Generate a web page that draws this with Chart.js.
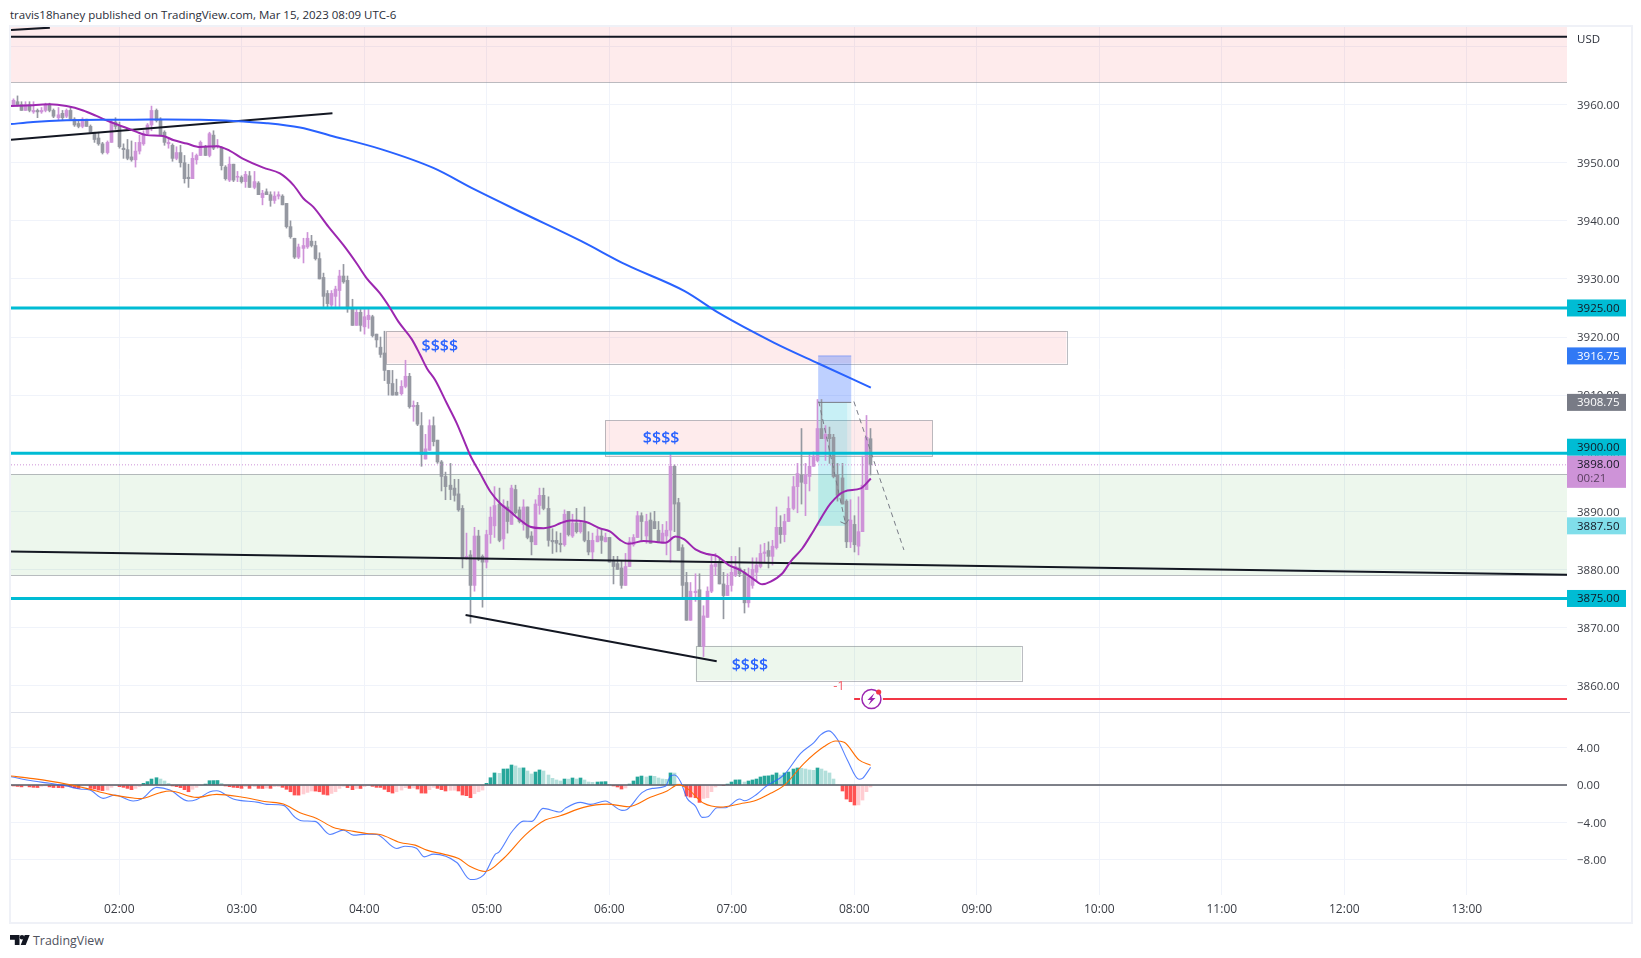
<!DOCTYPE html>
<html>
<head>
<meta charset="utf-8">
<title>ES 2m</title>
<script src="https://cdn.jsdelivr.net/npm/chart.js@4/dist/chart.umd.min.js"></script>
<style>
html,body{margin:0;padding:0;background:#fff;width:1641px;height:958px;overflow:hidden;font-family:"Open Sans",sans-serif}
.frame{position:absolute;left:9px;top:25px;width:1620px;height:895px;border:2px solid #eff1f7}
.sep{position:absolute;left:11px;top:712px;width:1619px;height:1px;background:#e0e3eb}
canvas{position:absolute}
#title{position:absolute;left:10px;top:6px;font-size:11.5px;line-height:18px;color:#2a2e39;white-space:nowrap}
#logo{position:absolute;left:10px;top:935px}
#brand{position:absolute;left:33px;top:932px;font-size:12.4px;line-height:18px;color:#50535e}
</style>
</head>
<body>
<div class="frame"></div>
<canvas id="price" width="1622" height="685" style="left:10px;top:27px"></canvas>
<canvas id="macd" width="1622" height="210" style="left:10px;top:712px"></canvas>
<div class="sep"></div>
<div id="title">travis18haney published on TradingView.com, Mar 15, 2023 08:09 UTC-6</div>
<svg id="logo" width="20" height="11" viewBox="0 0 20 11"><path d="M0 0h9.500v10h-4.700v-5.200h-4.800z M14.700 0h5l-4 10h-5z" fill="#131722"/><circle cx="12" cy="2.300" r="2.300" fill="#131722"/></svg>
<div id="brand">TradingView</div>
<script>
// 2 minute bars, time axis is minutes after midnight
var firstBar = 68;
var barMinutes = 2;
var viewStart = 66.96;
var viewEnd = 829.07;

var barOpen = [
3960,3960.5,3960,3959,3960,3958.75,3959,3958.75,3959,3960,
3959,3957.75,3958.5,3958,3959,3957.5,3956.75,3956.25,3957.5,3956.25,
3955.25,3954.25,3953.25,3951.75,3953.5,3957,3956.25,3952.5,3952.25,3951,
3950.5,3952,3953.25,3955,3956.5,3959,3957.5,3955.25,3953.25,3953,
3950.75,3951.75,3950,3947.5,3947.25,3950.5,3951.25,3952.75,3951.25,3954.75,
3952.75,3952.5,3949.25,3947,3949.75,3947.5,3947.5,3946.75,3947.75,3945.75,
3946.5,3944,3945,3944.5,3943.5,3944.25,3944.25,3943,3939,3937,
3933.75,3935.25,3935.5,3936.5,3935.75,3933.5,3930.25,3927.5,3925.5,3927,
3928,3930.5,3929.75,3925,3922,3924.25,3921.75,3923,3923.5,3920.5,
3918.25,3917.25,3914.25,3912,3910.5,3910.25,3911.5,3913.25,3908,3908.25,
3904.75,3899,3900.5,3904.75,3902.25,3898.5,3896,3894.5,3894,3893,
3890.5,3882,3882.5,3877.25,3885.75,3882.25,3881.25,3886,3887.5,3891.25,
3885.25,3890.75,3887.75,3893.75,3890.25,3887.75,3890.75,3885.75,3884.25,3891,
3892.75,3890.5,3885,3885,3884.5,3884.25,3890,3885.75,3888,3886.5,
3888,3885,3883,3884.75,3885.75,3884.75,3885.5,3881.5,3881,3880.25,
3877.25,3880.5,3884.25,3885.5,3889.25,3885.75,3888.5,3888.25,3886.75,3884.5,
3885.75,3886.75,3897.75,3891.5,3883.75,3877.75,3871.25,3876,3876.5,3866.75,
3871.75,3876.25,3880.5,3881.25,3877.5,3875.5,3877.25,3879,3880.25,3879.5,
3874.25,3877.25,3879.5,3880.5,3882.75,3883.25,3882.25,3883.75,3887.25,3886,
3888.25,3890.5,3894.25,3896.25,3894.75,3896,3897.75,3898.75,3904.25,3902.5,
3903.25,3902.75,3896.25,3895.75,3891.75,3884.75,3887.75,3884,3886.5,3893.75,
3902.5];
var barHigh = [
3961,3961.5,3960.5,3960.5,3960.5,3960.5,3959.25,3959.5,3960.25,3960.25,
3959.25,3959.5,3959,3959.25,3959.5,3957.75,3957.25,3957.75,3957.5,3956.5,
3955.25,3955.25,3953.5,3953.75,3957.25,3957.75,3957,3953.25,3954,3953.75,
3953.5,3954.75,3955.5,3956.75,3959.75,3959.25,3957.75,3955.5,3954.25,3953.25,
3952.75,3953,3951.25,3949.75,3951.75,3951.5,3953.75,3953,3955.25,3955.5,
3954,3952.75,3949.5,3951,3949.75,3948.5,3947.75,3948.5,3948.5,3948.5,
3946.75,3945.25,3945.5,3945,3945,3945,3944.5,3943,3940,3937,
3936,3937,3938,3937.5,3936.5,3934.5,3931,3928,3928,3928.75,
3931.5,3932.5,3930.5,3926.5,3924.75,3924.75,3924.75,3924.75,3923.75,3920.5,
3920,3921,3914.25,3914.25,3912.75,3912.5,3916,3913.75,3909,3908.75,
3907,3903.25,3905.75,3906.25,3902.25,3898.75,3896.75,3898.25,3895.5,3895.5,
3891,3886.25,3883.25,3887.25,3886.75,3882.5,3886.75,3890.75,3894.25,3894,
3892,3891.75,3894.5,3894.5,3890.75,3892,3890.75,3886.5,3892,3894,
3894,3892.5,3887,3886.5,3886.25,3890.25,3890,3889.5,3890.5,3888.25,
3890.75,3886.5,3886.25,3887,3886.75,3886.25,3885.5,3882.25,3882.25,3881.5,
3882.75,3885.5,3886,3890,3889.75,3889.5,3889.75,3890,3888.25,3887.75,
3888.25,3900,3898,3892.25,3884.25,3879.5,3877.75,3879.25,3879.25,3873.75,
3877,3882.25,3882.75,3882,3879.5,3879.25,3882.25,3882.25,3883.75,3880,
3880.25,3882,3882,3884.25,3884.5,3884.75,3885,3890.75,3889.25,3889.5,
3892.5,3896,3898.25,3904.25,3898.25,3899.75,3900.25,3909.25,3909.25,3904.75,
3904.5,3903.25,3898.25,3898.25,3892,3892,3889.25,3892.5,3899.5,3906.5,
3904.25];
var barLow = [
3959.75,3959.75,3959,3959,3958.75,3958.5,3957.75,3958.5,3958.75,3958.75,
3957.75,3957.25,3957.25,3957.75,3957.25,3956.25,3956,3956,3956.25,3955.25,
3953.5,3953,3951.5,3951.5,3953.5,3955.75,3952.5,3950.75,3950.5,3950.25,
3949.25,3951.5,3953,3954.75,3955.5,3957,3954.75,3953,3952.5,3950.25,
3950.5,3949.25,3946.5,3945.75,3947.25,3949.75,3951.25,3951.25,3951,3952.25,
3952.5,3948.75,3947,3946.75,3946.75,3946.75,3946.5,3945.75,3945.75,3945.5,
3944.5,3942.75,3944.5,3942.5,3943,3943.75,3942.75,3938.75,3937,3933.5,
3933.5,3932.75,3935.25,3935.5,3933.25,3930,3925.25,3925,3925.25,3925.25,
3925.25,3929.25,3924.25,3922,3922,3921,3920.5,3921.5,3920,3918.25,
3916.5,3912.5,3910,3910,3910,3910,3911.25,3907.75,3905.5,3904.75,
3897.75,3899,3900.5,3901.25,3898.25,3893.5,3892,3892,3891.75,3890,
3880.25,3881.75,3870.75,3876.25,3881.5,3873.5,3880.25,3884.5,3885.5,3884.75,
3883.5,3886.25,3887.75,3889.5,3888,3886.75,3885.25,3882.5,3884.25,3889.5,
3890.25,3884,3882.75,3883,3883,3884,3885.75,3885.5,3886.25,3886.25,
3884.75,3882.5,3881.75,3884.75,3882.75,3884.75,3881.25,3877.5,3880,3876.75,
3877.25,3880.5,3884,3885.5,3885,3884.5,3884.5,3887,3884.75,3884.5,
3882.5,3881.25,3886.5,3883.25,3875.25,3871.25,3871.25,3874.5,3866.75,3865,
3871.75,3876,3879,3877.5,3871.5,3875.5,3876.25,3878.75,3878.75,3872.5,
3873.5,3876.75,3878,3880.25,3881.25,3880.25,3880.75,3883.5,3884.5,3884.75,
3888.25,3890.25,3889.75,3891.25,3889.25,3893.5,3897.75,3898.5,3902.5,3898.75,
3898.25,3895.75,3891.75,3891.25,3883.75,3883.75,3883,3882.5,3886.5,3893.75,
3896.25];
var barClose = [
3960.75,3960,3959,3960,3959,3959,3958.75,3959,3960,3959,
3958,3958.25,3957.75,3959,3957.5,3956.5,3956.25,3957.5,3956.25,3955.25,
3954,3953.25,3951.75,3953.5,3957,3956.25,3952.75,3952.25,3950.75,3950.5,
3952,3953.5,3955,3956.5,3959,3957.25,3954.75,3953.5,3953.5,3950.75,
3951.75,3950,3947.25,3947.25,3950.75,3951.25,3953.5,3951.25,3955,3952.5,
3953,3949.5,3947.25,3949.75,3947,3947.5,3946.75,3948,3945.75,3946.75,
3944.5,3944.75,3944.5,3943.5,3944.25,3944.5,3942.75,3939,3937.25,3933.75,
3935.5,3935.75,3937,3935.75,3933.5,3930,3927,3925.75,3927.5,3928.25,
3930.5,3929.5,3925,3922,3924.25,3922,3923.5,3923.75,3920.25,3919.5,
3917,3914.25,3912,3910,3910,3911.5,3913.25,3908,3908.25,3905,
3899.75,3900.75,3904.75,3902,3898.5,3896,3894.25,3893.75,3892.75,3890.25,
3882,3882.25,3877.25,3885.75,3881.75,3881.25,3886,3889,3891,3885,
3891,3888.25,3894,3889.75,3888.25,3890.75,3885.5,3884.75,3891.25,3892.75,
3890.5,3885,3884.75,3884.5,3884.25,3889.5,3886,3888,3886.5,3888,
3885,3883,3885,3885.75,3885,3885.5,3881.25,3880.5,3880,3877.25,
3880.5,3884.75,3885.5,3889.25,3888.25,3888.25,3884.5,3887,3884.75,3886.25,
3886.75,3897.75,3891.25,3883.25,3877.25,3871.25,3876.25,3876.25,3866.75,3872,
3876.25,3880.75,3881,3877.5,3875.5,3877.25,3879.5,3880.5,3879.25,3874.25,
3878.75,3880,3880.75,3882.75,3883,3882.25,3884,3887.25,3886,3888.25,
3890.5,3894.25,3896.5,3895,3896.25,3897.75,3899.5,3904.25,3902.5,3903.25,
3902.5,3896,3892.75,3891.25,3884.75,3888.5,3884.25,3886.5,3894.5,3902.75,
3898];

// purple moving average
var emaTimes = [66.96,77.8,86,94.1,102.3,108.8,115.4,121.9,128.5,133.4,141.5,146.4,153,159.5,167.7,174.2,180.7,190.5,198.7,205.3,210.2,215,222.4,229.8,236.3,241.2,247.7,252.6,256.7,263.3,267.4,270.7,274.7,280.4,285.3,289.4,291.8,296.8,301.7,306.6,311.5,316.4,321.3,327.8,332.7,336,340.9,348.2,355.6,360.5,365.4,369.5,376.9,387.5,392.4,396.5,402.2,407.9,412.8,418.5,424.2,430.8,434.9,439,444.7,448.8,454.5,460.3,468.4,475,483.2,488.1];
var emaValues = [3959.75,3959.9,3960.05,3959.75,3959,3958.05,3957.05,3956.2,3955.3,3954.75,3954.6,3953.9,3953.3,3952.7,3952.85,3952.05,3950.65,3949.15,3948.15,3946.15,3943.85,3942.4,3939,3935.8,3932.65,3930.1,3927.5,3925,3922.65,3919.6,3916.9,3914.6,3912.6,3908.6,3905.15,3901.7,3899.7,3896.5,3893.4,3891.35,3889.95,3888.5,3887.35,3887.1,3887.45,3887.95,3888.4,3888.2,3887.05,3886.5,3885.05,3884.4,3884.9,3884.6,3885.65,3885.2,3883.45,3882.65,3882.3,3880.75,3879.9,3878.3,3877.45,3877.9,3879.3,3881.35,3883.6,3886.8,3891.35,3893.4,3893.95,3895.65];

// blue moving average
var smaTimes = [66.96,77.8,94.1,110.5,126.8,143.2,159.5,175.8,192.2,208.5,223.2,248.5,273.8,294,317.6,346.3,368.2,396.9,413.8,440.8,462.7,488.1];
var smaValues = [3956.65,3957,3957.3,3957.4,3957.4,3957.45,3957.4,3957.2,3956.8,3956.05,3954.7,3952.3,3949.1,3945.4,3941.35,3936.5,3932.45,3927.9,3924.1,3919,3915.4,3911.3];

var macdHist = [
-0.1,-0.15,-0.2,-0.1,-0.2,-0.25,-0.27,-0.15,-0.1,-0.2,
-0.27,-0.28,-0.3,-0.15,-0.18,-0.3,-0.36,-0.1,-0.08,-0.36,
-0.42,-0.54,-0.6,-0.54,-0.25,-0.03,-0.18,-0.25,-0.36,-0.5,
-0.36,-0.18,0.18,0.36,0.64,0.78,0.64,0.43,0.18,-0.1,
-0.18,-0.28,-0.5,-0.72,-0.46,-0.25,-0.07,0.1,0.46,0.47,
0.48,0.18,-0.1,-0.18,-0.25,-0.28,-0.36,-0.18,-0.36,-0.18,
-0.36,-0.37,-0.33,-0.36,-0.18,-0.17,-0.25,-0.46,-0.72,-1.07,
-1.08,-0.96,-0.79,-0.64,-0.65,-0.72,-1,-1.07,-0.9,-0.72,
-0.36,-0.14,-0.28,-0.5,-0.36,-0.37,-0.18,-0.03,-0.14,-0.25,
-0.26,-0.46,-0.72,-0.86,-0.72,-0.54,-0.28,-0.36,-0.32,-0.43,
-0.86,-0.87,-0.5,-0.25,-0.36,-0.5,-0.64,-0.57,-0.56,-0.64,
-1.07,-1.14,-1.36,-0.93,-0.72,-0.54,0.18,0.78,1.29,1.25,
1.71,1.72,2.14,2.04,1.82,1.83,1.5,1.18,1.39,1.61,
1.5,1.07,0.71,0.54,0.43,0.64,0.63,0.75,0.64,0.75,
0.54,0.32,0.29,0.32,0.34,0.36,0.07,-0.1,-0.21,-0.43,
-0.32,0.1,0.43,0.86,0.96,0.86,0.96,0.93,0.75,0.64,
0.61,1.29,1.28,0.1,-0.03,-1.18,-1.29,-1.36,-1.86,-1.43,
-1.36,-0.71,-0.21,-0.03,-0.07,0.1,0.32,0.54,0.55,0.32,
0.43,0.54,0.64,0.86,0.96,0.98,1.07,1.29,1.07,1.29,
1.39,1.71,1.82,1.79,1.71,1.61,1.57,1.82,1.71,1.5,
1.29,0.64,0,-0.64,-1.5,-1.79,-2.14,-2.13,-1.61,-0.71,
-0.21];

var macdTimes = [66.96,77.8,86,94.1,100.7,105.6,112.1,117.8,126.8,130.9,138.3,144.8,153.8,157.9,164.4,167.7,175.8,188.1,192.2,200.4,206.1,209.3,215.9,223.2,229.8,234.7,241.2,246.1,255.9,260,265.7,269.3,273.9,285.3,291.9,298.4,304.2,305.8,312.3,318,322.1,327.5,336,338.4,345.8,350.7,358,366.2,368.7,376,381,387.5,390,392,394.9,398.1,402.2,405.5,408.3,412.8,416.9,423.9,426.2,432.4,436.5,445.5,453.7,460.2,463.5,467.6,471.7,476.6,482.3,484,488];
var macdValues = [0.89,0.43,0.18,-0.11,-0.43,-0.54,-1.43,-1.07,-1.71,-1.5,-0.25,-0.54,-1.71,-1.54,-0.71,-0.61,-1.5,-1.86,-2.07,-2.18,-3.46,-3.82,-3.89,-5.29,-4.82,-5.36,-5.25,-5.29,-6.79,-6.54,-6.79,-7.68,-7.39,-8.29,-10.1,-9.64,-7.39,-7.21,-5,-3.86,-3.89,-2.5,-2.89,-2.5,-1.86,-2.07,-1.71,-2.71,-2.61,-0.82,-0.36,-0.14,0.96,1.07,0.36,-1.43,-2.25,-3.46,-3.39,-2.43,-2.43,-1.5,-1.68,-0.96,-0.18,1.07,3.39,4.54,5.36,5.79,4.89,2.68,0.61,0.71,1.89];
var signalTimes = [66.96,77.8,94.1,103.9,115.4,126.8,130,139.9,144.8,157.9,167.7,179.1,192.2,200.4,208.5,216.7,224.9,233.1,241.2,247.7,257.5,264.9,270.6,278.8,286.2,291.9,299.2,308.2,318.8,328.6,336,347.4,358.9,369.5,380.1,388.3,394,398.1,406.3,414.5,424.3,430.9,439,445.5,455.4,465.2,470.9,475,482.3,488];
var signalValues = [0.96,0.68,0.11,-0.36,-1,-1.39,-1.46,-0.82,-0.64,-1.32,-1,-1.25,-1.79,-2.04,-2.96,-3.57,-4.54,-4.89,-5.18,-5.29,-6.14,-6.43,-6.96,-7.39,-7.86,-8.72,-9.25,-7.86,-5.36,-3.75,-3.29,-2.39,-2.04,-2.32,-1.32,-0.64,0.04,-0.36,-1.96,-2.36,-2,-1.71,-0.89,-0.07,2.32,4.11,4.71,4.57,2.68,2.11];

var priceTicks = [3970,3960,3950,3940,3930,3920,3910,3900,3890,3880,3870,3860];
var macdTicks = [4,0,-4,-8];
var timeTicks = [120,180,240,300,360,420,480,540,600,660,720,780];
var levels = [3925,3900,3875];
var lastPrice = 3898;

// zones: start time, end time, top price, bottom price
var pinkStart = [60,250.4,358];
var pinkEnd = [840,583.9,518.3];
var pinkTop = [3980,3921.05,3905.65];
var pinkBottom = [3963.85,3915.45,3899.5];
var greenStart = [60,402.3];
var greenEnd = [840,561.8];
var greenTop = [3896.4,3866.85];
var greenBottom = [3879,3860.9];

var tradeStart = 462.3;
var tradeMid = 476.5;
var tradeEnd = 478.5;
var stopPrice = 3916.75;
var entryPrice = 3908.75;
var targetPrice = 3887.5;

var noteTimes = [277,385.4,428.9];
var notePrices = [3918.45,3902.6,3863.55];

var C_UP = '#ce93d8', C_DOWN = '#9598a1', C_CYAN = '#00bcd4', C_BLACK = '#131722', C_RED = '#f23645';

function pts(ts, vs){
    return ts.map(function(t,i){ return {x:t, y:vs[i]}; });
}
function lineSet(ts, vs, color, width, order, extra){
    return Object.assign({type:'line', data:pts(ts,vs), borderColor:color, borderWidth:width, pointRadius:0, order:order, fill:false}, extra||{});
}
function hhmm(m){
    var h = Math.floor(m/60), mm = m%60;
    return (h<10?'0':'')+h+':'+(mm<10?'0':'')+mm;
}
// chart.js pads for the tick labels, these panes have to fill their canvas
function noPadX(s){ s.paddingLeft = 0; s.paddingRight = 0; }
function noPadY(s){ s.paddingTop = 0; s.paddingBottom = 0; s.width = 65; }

// keep bars on whole pixels so wicks stay sharp
var snapBars = {
    id:'snapBars',
    beforeDatasetsDraw:function(chart){
        chart.getSortedVisibleDatasetMetas().forEach(function(m){
            if(m.type!=='bar') return;
            m.data.forEach(function(el){ el.x = Math.floor(el.x)+.5; });
        });
    }
};

var barTimes = barOpen.map(function(v,i){ return firstBar+i*barMinutes; });
var barColors = barOpen.map(function(o,i){ return barClose[i]>=o ? C_UP : C_DOWN; });

var histColors = macdHist.map(function(v,i){
    var prev = i>0 ? macdHist[i-1] : 0;
    if(v>=0) return v>prev ? '#26a69a' : '#b2dfdb';
    return v<prev ? '#ff5252' : '#ffcdd2';
});

var badges = [
    {text:'3925.00', value:3925, bg:C_CYAN, fg:'#131722', dy:0},
    {text:'3916.75', value:3916.75, bg:'#3179f5', fg:'#fff', dy:0},
    {text:'3908.75', value:3908.75, bg:'#787b86', fg:'#fff', dy:0},
    {text:'3900.00', value:3900, bg:C_CYAN, fg:'#131722', dy:-6},
    {text:'3887.50', value:3887.5, bg:'#80deea', fg:'#131722', dy:0},
    {text:'3875.00', value:3875, bg:C_CYAN, fg:'#131722', dy:0}
];

var priceDecor = {
    id:'priceDecor',
    beforeDatasetsDraw:function(chart){
        var c = chart.ctx, X = chart.scales.x, Y = chart.scales.y, a = chart.chartArea;
        function box(t0,t1,p0,p1,fill,stroke){
            var x0=X.getPixelForValue(t0), x1=X.getPixelForValue(t1), y0=Y.getPixelForValue(p0), y1=Y.getPixelForValue(p1);
            c.fillStyle=fill;
            c.fillRect(x0,y0,x1-x0,y1-y0);
            if(stroke){ c.strokeStyle=stroke; c.lineWidth=1; c.strokeRect(Math.round(x0)+.5,Math.round(y0)+.5,Math.round(x1-x0),Math.round(y1-y0)); }
        }
        c.save();
        c.beginPath(); c.rect(a.left,a.top,a.right-a.left,a.bottom-a.top); c.clip();
        pinkStart.forEach(function(t,i){ box(t,pinkEnd[i],pinkTop[i],pinkBottom[i],'rgba(242,54,69,.1)','rgba(120,123,134,.5)'); });
        greenStart.forEach(function(t,i){ box(t,greenEnd[i],greenTop[i],greenBottom[i],'rgba(76,175,80,.1)','rgba(120,123,134,.5)'); });
        box(tradeStart,tradeEnd,stopPrice,entryPrice,'rgba(41,98,255,.3)');
        box(tradeStart,tradeEnd,entryPrice,targetPrice,'rgba(0,188,212,.13)');
        box(tradeStart,tradeMid,entryPrice,targetPrice,'rgba(0,188,212,.1)');
        c.restore();
    },
    afterDatasetsDraw:function(chart){
        var c = chart.ctx, X = chart.scales.x, Y = chart.scales.y;
        c.save();
        // $$$$ notes
        c.font = '600 16px "Open Sans"';
        c.fillStyle = '#2962ff';
        c.textAlign = 'center';
        c.textBaseline = 'middle';
        noteTimes.forEach(function(t,i){ c.fillText('$$$$',X.getPixelForValue(t),Y.getPixelForValue(notePrices[i])); });
        // earnings marker
        var ix = X.getPixelForValue(488.4), iy = Y.getPixelForValue(3857.7);
        c.strokeStyle='#9c27b0'; c.lineWidth=1.5;
        c.beginPath(); c.arc(ix,iy,9.5,0,Math.PI*2); c.stroke();
        c.fillStyle='#9c27b0';
        c.beginPath();
        c.moveTo(ix+3,iy-6); c.lineTo(ix-4,iy+1); c.lineTo(ix-.5,iy+1); c.lineTo(ix-3,iy+6); c.lineTo(ix+4,iy-1); c.lineTo(ix+.5,iy-1);
        c.closePath(); c.fill();
        c.fillStyle=C_RED;
        c.beginPath(); c.arc(ix+7.2,iy-7,2.6,0,Math.PI*2); c.fill();
        c.font='13px "Open Sans"';
        c.fillStyle='#f4606a';
        c.fillText('-1',X.getPixelForValue(472.5),Y.getPixelForValue(3859.9));
        c.restore();
    },
    afterDraw:function(chart){
        var c = chart.ctx, Y = chart.scales.y, a = chart.chartArea;
        c.save();
        c.textBaseline='middle';
        c.textAlign='left';
        c.font='11.5px "Open Sans"';
        c.fillStyle='#2a2e39';
        c.fillText('USD',a.right+10,13);
        badges.forEach(function(b){
            var y = Y.getPixelForValue(b.value)+b.dy;
            c.fillStyle=b.bg;
            c.fillRect(a.right,y-8.500,59,17);
            c.fillStyle=b.fg;
            c.fillText(b.text,a.right+10,y+.7);
        });
        // last price with countdown
        var ly = Y.getPixelForValue(lastPrice);
        c.fillStyle=C_UP;
        c.fillRect(a.right,ly-9,59,32);
        c.fillStyle='#131722';
        c.fillText('3898.00',a.right+10,ly+.2);
        c.fillStyle='#5a3f60';
        c.fillText('00:21',a.right+10,ly+14);
        c.restore();
    }
};

new Chart(document.getElementById('price'), {
    type:'bar',
    data:{datasets:[
        lineSet([viewStart,viewEnd],[levels[0],levels[0]],C_CYAN,3,3),
        lineSet([viewStart,viewEnd],[levels[1],levels[1]],C_CYAN,3,3),
        lineSet([viewStart,viewEnd],[levels[2],levels[2]],C_CYAN,3,3),
        lineSet([viewStart,viewEnd],[lastPrice,lastPrice],C_UP,1,4,{borderDash:[1,2]}),
        lineSet([viewStart,viewEnd],[3971.7,3971.7],C_BLACK,2,2),
        lineSet([viewStart,86],[3972.85,3973.25],C_BLACK,2,2),
        lineSet([viewStart,224.4],[3953.95,3958.5],C_BLACK,2,2),
        lineSet([viewStart,viewEnd],[3883.07,3879.1],C_BLACK,2,2),
        lineSet([289.6,412.6],[3872.15,3864.2],C_BLACK,2,2),
        lineSet([494,viewEnd],[3857.7,3857.7],C_RED,2,2),
        lineSet([479.9,482.8],[3857.7,3857.7],C_RED,2,2),
        lineSet([tradeStart,tradeEnd],[entryPrice,entryPrice],'#787b86',1,5),
        lineSet([tradeStart,tradeEnd],[stopPrice,stopPrice],'rgba(41,98,255,.4)',1,5),
        lineSet([462.6,475.7],[3908.9,3887.9],'#787b86',1,5,{borderDash:[5,4]}),
        lineSet([473.2,475.7,477.3],[3888.2,3887.8,3888.6],'#787b86',1,5),
        lineSet([479.8,504.3],[3908.9,3883.35],'#787b86',1,5,{borderDash:[5,4]}),
        lineSet(smaTimes,smaValues,'#2962ff',2,1,{cubicInterpolationMode:'monotone'}),
        lineSet(emaTimes,emaValues,'#9c27b0',2,1,{cubicInterpolationMode:'monotone'}),
        {type:'bar', data:barTimes.map(function(t,i){ return {x:t,y:[barOpen[i],barClose[i]]}; }), backgroundColor:barColors, barThickness:3, minBarLength:1, grouped:false, order:9},
        {type:'bar', data:barTimes.map(function(t,i){ return {x:t,y:[barLow[i],barHigh[i]]}; }), backgroundColor:barColors, barThickness:1, grouped:false, order:10}
    ]},
    plugins:[priceDecor, snapBars],
    options:{
        responsive:false, animation:false, devicePixelRatio:1, events:[],
        layout:{padding:{left:1,top:0,right:0,bottom:0}, autoPadding:false},
        plugins:{legend:{display:false}, tooltip:{enabled:false}},
        scales:{
            x:{type:'linear', min:viewStart, max:viewEnd, offset:false,
                grid:{color:'#f0f3fa', offset:false, drawTicks:false}, border:{display:false},
                ticks:{display:false},
                afterBuildTicks:function(s){ s.ticks = timeTicks.map(function(v){ return {value:v}; }); },
                afterFit:function(s){ noPadX(s); s.height = 0; }},
            y:{position:'right', min:3855.46, max:3973.36,
                grid:{color:'#f0f3fa', drawTicks:false}, border:{display:false},
                ticks:{padding:10, labelOffset:1, autoSkip:false, color:'#3a3d45', font:{family:'"Open Sans"', size:11.5},
                    callback:function(v){ return v>3965 ? '' : v.toFixed(2); }},
                afterBuildTicks:function(s){ s.ticks = priceTicks.map(function(v){ return {value:v}; }); },
                afterFit:noPadY}
        }
    }
});

new Chart(document.getElementById('macd'), {
    type:'bar',
    data:{datasets:[
        lineSet([viewStart,viewEnd],[0,0],'rgba(95,97,107,.8)',2,3),
        lineSet(signalTimes,signalValues,'#ff6d00',1.1,1,{cubicInterpolationMode:'monotone'}),
        lineSet(macdTimes,macdValues,'#2962ff',1.1,2,{cubicInterpolationMode:'monotone', borderColor:'rgba(41,98,255,.8)'}),
        {type:'bar', data:barTimes.map(function(t,i){ return {x:t,y:macdHist[i]}; }), backgroundColor:histColors, barThickness:3, grouped:false, order:9}
    ]},
    plugins:[snapBars],
    options:{
        responsive:false, animation:false, devicePixelRatio:1, events:[],
        layout:{padding:{left:1,top:1,right:0,bottom:0}, autoPadding:false},
        plugins:{legend:{display:false}, tooltip:{enabled:false}},
        scales:{
            x:{type:'linear', min:viewStart, max:viewEnd, offset:false,
                grid:{color:'#f0f3fa', offset:false, drawTicks:false}, border:{display:false},
                ticks:{autoSkip:false, maxRotation:0, padding:7, color:'#3a3d45', font:{family:'"Open Sans"', size:12},
                    callback:function(v){ return hhmm(v); }},
                afterBuildTicks:function(s){ s.ticks = timeTicks.map(function(v){ return {value:v}; }); },
                afterFit:function(s){ noPadX(s); s.height = 27; }},
            y:{position:'right', min:-11.76, max:7.7,
                grid:{color:'#f0f3fa', drawTicks:false}, border:{display:false},
                ticks:{padding:10, labelOffset:1, autoSkip:false, color:'#3a3d45', font:{family:'"Open Sans"', size:11.5},
                    callback:function(v){ return v.toFixed(2).replace('-','\u2212'); }},
                afterBuildTicks:function(s){ s.ticks = macdTicks.map(function(v){ return {value:v}; }); },
                afterFit:noPadY}
        }
    }
});
</script>
</body>
</html>
